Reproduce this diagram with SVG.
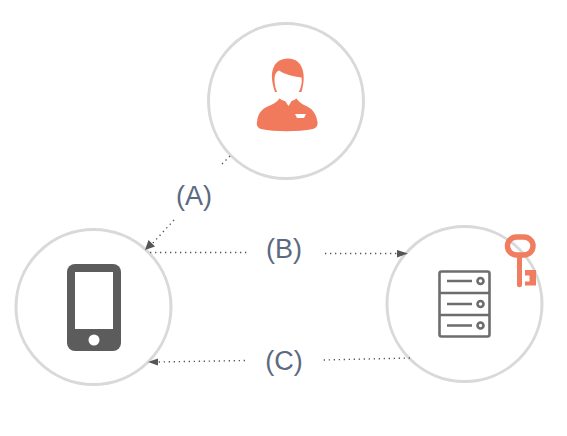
<svg xmlns="http://www.w3.org/2000/svg" width="567" height="436" viewBox="0 0 567 436">
<style>
.ring{fill:#fff;stroke:#d9d9d9;stroke-width:3}
.conn{fill:none;stroke:#555;stroke-width:1.4;stroke-dasharray:1.3 3.7}
.head{fill:#555}
.lab{font-family:"Liberation Sans",Arial,sans-serif;font-size:27px;fill:#5b6a80;text-anchor:middle}
.srv{fill:none;stroke:#6d6d6d;stroke-width:2.6}
.key{fill:none;stroke:#f07d5f;stroke-width:5.500}
</style>
<rect width="567" height="436" fill="#fff"/>
<g id="node-user">
<circle class="ring" cx="286" cy="101" r="77.500"/>
<path fill="#f27a5c" d="M257 122C258 112 263 108 271 105C276 103 279 100 281 96H295C297 100 300 103 304 105C312 108 316 113 317.500 122C318 126 316 128 313 129C298 132 275 132 261 129C258 128 256 125 257 122Z"/>
<path fill="#fff" d="M283 98H293.500L288.500 106Z"/>
<path fill="#fff" d="M272.500 84C272 92 279 101.500 288 101.500C297 101.500 304 92 303.500 84Z"/>
<path fill="#f27a5c" d="M275 92C268 73 273 58.500 288 58.500C302 58.500 307 73 301.500 92Z"/>
<path fill="#fff" d="M274.500 80C274.500 75 276 71.500 279 70.500C284 74 293 76.500 301.500 77.500C302 80 301.800 84 300.800 87C299 94 294 98.500 288 99C282 98.500 277 94 275.300 87C275 84 274.500 82 274.500 80Z"/>
<path fill="#fff" d="M295 114L306 114L304 118L297 118Z"/>
</g>
<g id="node-phone">
<circle class="ring" cx="93.500" cy="307" r="77.500"/>
<rect x="67" y="264" width="54" height="87" rx="8" fill="#5c5c5c"/>
<rect x="75" y="272" width="38" height="57" fill="#fff"/>
<circle cx="94" cy="340" r="5.500" fill="#fff"/>
</g>
<g id="node-server">
<circle class="ring" cx="464.500" cy="304" r="77.500"/>
<rect class="srv" x="439.500" y="271.500" width="50" height="65" rx="2"/>
<path class="srv" d="M439.500 293H489.500M439.500 315H489.500"/>
<path class="srv" d="M447 281H472M447 304H472M447 325.500H472"/>
<circle class="srv" cx="480.500" cy="281" r="3"/>
<circle class="srv" cx="480.500" cy="304" r="3"/>
<circle class="srv" cx="480.500" cy="325.500" r="3"/>
</g>
<g id="node-key">
<rect class="key" x="507.500" y="237" width="25.500" height="18" rx="9"/>
<path fill="#f07d5f" d="M517 256H522V285C522 288 517 288 517 285Z"/>
<path fill="#f07d5f" d="M525 270H536V285.500H525V281.500H529.500V275.500H525Z"/>
</g>
<g id="connectors">
<path class="conn" d="M230 156L222 164"/>
<path class="conn" d="M174 220L152 244"/>
<path class="head" d="M145 250L148.500 240L155 246.500Z"/>
<path class="conn" d="M150 252.500H247"/>
<path class="conn" d="M325 253.500H398"/>
<path class="head" d="M408 253.500L397 250V257.500Z"/>
<path class="conn" d="M245 360.500L158 362"/>
<path class="head" d="M148 362L158 358.500V365.500Z"/>
<path class="conn" d="M410 358L323 360"/>
</g>
<text class="lab" x="194" y="205">(A)</text>
<text class="lab" x="284" y="258">(B)</text>
<text class="lab" x="284" y="370">(C)</text>
</svg>
